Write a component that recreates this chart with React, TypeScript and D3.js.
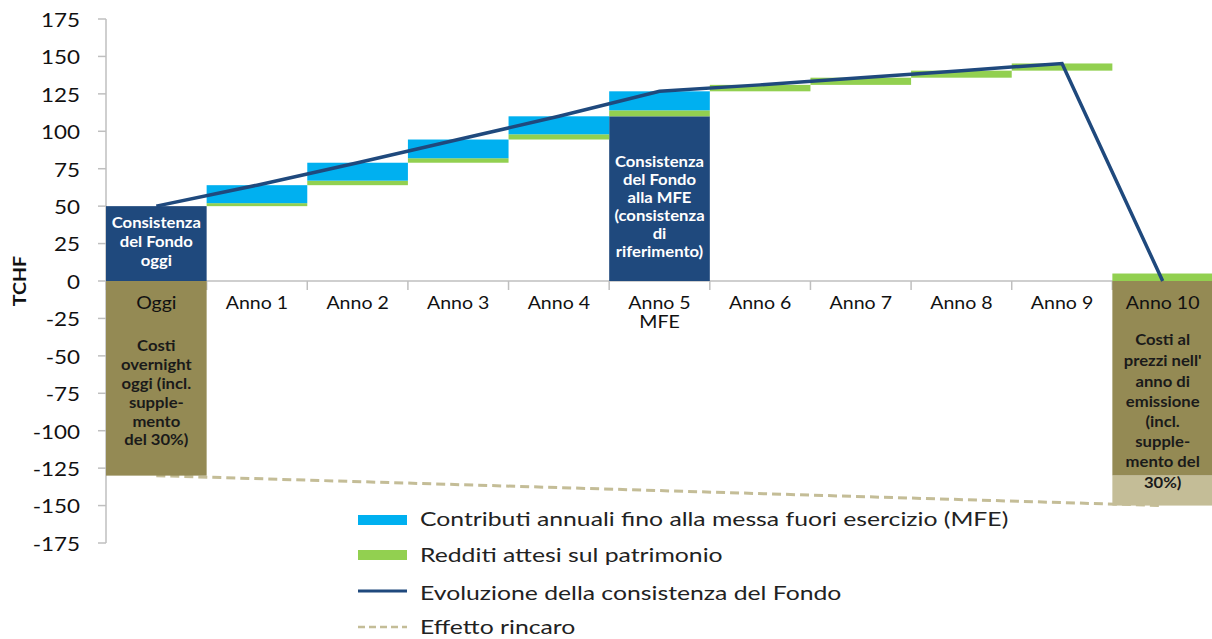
import React from "react";
import * as d3 from "d3";

const categories = ["Oggi", "Anno 1", "Anno 2", "Anno 3", "Anno 4", "Anno 5", "Anno 6", "Anno 7", "Anno 8", "Anno 9", "Anno 10"];
const categorySubLabels = ["", "", "", "", "", "MFE", "", "", "", "", ""];
const baseValues = [0, 50, 64, 79, 94.5, 0, 126.7, 131, 135.8, 140.5, 0];
const fundBarValues = [50, 0, 0, 0, 0, 110, 0, 0, 0, 0, 0];
const incomeValues = [0, 2, 3, 3, 3.5, 4, 4.3, 4.8, 4.7, 4.8, 5];
const contribValues = [0, 12, 12, 12.5, 12, 12.7, 0, 0, 0, 0, 0];
const costValues = [-130, 0, 0, 0, 0, 0, 0, 0, 0, 0, -130];
const inflationValues = [0, 0, 0, 0, 0, 0, 0, 0, 0, 0, -20];
const fundLineValues = [50, 64, 79, 94.5, 110, 126.7, 131, 135.8, 140.5, 145.3, 0];
const rincaroCategories = ["Oggi", "Anno 10"];
const rincaroValues = [-130, -150];
const yTicks = [175, 150, 125, 100, 75, 50, 25, 0, -25, -50, -75, -100, -125, -150, -175];

const legendItems = [
  "Contributi annuali fino alla messa fuori esercizio (MFE)",
  "Redditi attesi sul patrimonio",
  "Evoluzione della consistenza del Fondo",
  "Effetto rincaro",
];

const C = {
  dark: "#1F497D",
  blue: "#00B0F0",
  green: "#92D050",
  olive: "#948A54",
  tan: "#C4BD97",
  axis: "#BFBFBF",
};

const FONT = "Lato, 'Open Sans', sans-serif";

function SText(props: {
  x: number; y: number; sx: number; size: number; anchor?: string; weight?: string; fill?: string; children: any;
}) {
  const { x, y, sx, size, anchor = "start", weight = "normal", fill = "#111", children } = props;
  return (
    <text transform={`translate(${x},${y}) scale(${sx},1)`} textAnchor={anchor as any} dominantBaseline="central"
      fontSize={size} fontWeight={weight} fontFamily={FONT} fill={fill}>{children}</text>
  );
}

export default function App() {
  const W = 1212, H = 639;
  const x = d3.scaleBand<string>().domain(categories).range([106, 1213]).padding(0);
  const y = d3.scaleLinear().domain([-175, 175]).range([543, 19]);
  const bw = x.bandwidth();
  const cx = (c: string) => (x(c) as number) + bw / 2;

  const rows = categories.map((c, i) => ({
    cat: c,
    base: baseValues[i],
    fund: fundBarValues[i],
    income: incomeValues[i],
    contrib: contribValues[i],
    costs: costValues[i],
    inflation: inflationValues[i],
  }));
  const keys = ["base", "fund", "income", "contrib", "costs", "inflation"];
  const colors: Record<string, string> = {
    base: "none",
    fund: C.dark,
    income: C.green,
    contrib: C.blue,
    costs: C.olive,
    inflation: C.tan,
  };
  const series = d3.stack<any>().keys(keys).offset(d3.stackOffsetDiverging)(rows);

  const line = d3
    .line<number>()
    .x((_, i) => cx(categories[i]))
    .y((v) => y(v));
  const rincaroLine = d3
    .line<number>()
    .x((_, i) => cx(rincaroCategories[i]))
    .y((v) => y(v));

  const oggiX = cx("Oggi");
  const a5X = cx("Anno 5");
  const a10X = cx("Anno 10");

  const whiteText = (lines: string[], xc: number, y0: number, dy: number) =>
    lines.map((t, i) => (
      <SText key={t + i} x={xc} y={y0 + i * dy} sx={1.04} size={16} anchor="middle" weight="bold" fill="#FFFFFF">{t}</SText>
    ));
  const darkText = (lines: string[], xc: number, ys: number[]) =>
    lines.map((t, i) => (
      <SText key={t + i} x={xc} y={ys[i]} sx={1.04} size={16} anchor="middle" weight="bold" fill="#1A1A1A">{t}</SText>
    ));

  const legendY = [519, 555, 593, 627];

  return (
    <svg width={W} height={H} style={{ position: "absolute", left: 0, top: 0, background: "#fff" }}>
      {/* axes */}
      <line x1={106} x2={106} y1={y(175)} y2={y(-175)} stroke={C.axis} strokeWidth={1.5} />
      {yTicks.map((t) => (
        <g key={t}>
          <line x1={98} x2={106} y1={y(t)} y2={y(t)} stroke={C.axis} strokeWidth={1.5} />
          <SText x={80} y={y(t)} sx={1.15} size={19.5} anchor="end">{t}</SText>
        </g>
      ))}
      <line x1={106} x2={1212} y1={y(0)} y2={y(0)} stroke={C.axis} strokeWidth={1.5} />
      {categories.map((c) => (
        <line key={c} x1={(x(c) as number)} x2={(x(c) as number)} y1={y(0)} y2={y(0) + 9}
          stroke={C.axis} strokeWidth={1.5} />
      ))}
      <text transform={`translate(20,${y(0)}) rotate(-90) scale(1.15,1)`} textAnchor="middle" dominantBaseline="central"
        fontSize={17} fontWeight="bold" fontFamily={FONT} fill="#111">TCHF</text>

      {/* rincaro dashed line */}
      <path d={rincaroLine(rincaroValues) || ""} fill="none" stroke={C.tan} strokeWidth={3}
        strokeDasharray="9 5" />

      {/* bars */}
      {series.map((s) =>
        s.key === "base"
          ? null
          : s.map((d: any, i: number) => {
              const h = Math.abs(y(d[0]) - y(d[1]));
              if (h < 0.01) return null;
              return (
                <rect key={s.key + i} x={x(categories[i]) as number} width={bw}
                  y={Math.min(y(d[0]), y(d[1]))} height={h} fill={colors[s.key]} />
              );
            })
      )}

      {/* category labels */}
      {categories.map((c, i) => (
        <g key={c}>
          <SText x={cx(c)} y={303} sx={1.15} size={17} anchor="middle">{c}</SText>
          {categorySubLabels[i] ? (
            <SText x={cx(c)} y={322} sx={1.15} size={17} anchor="middle">{categorySubLabels[i]}</SText>
          ) : null}
        </g>
      ))}

      {/* fund line */}
      <path d={line(fundLineValues) || ""} fill="none" stroke={C.dark} strokeWidth={3.5}
        strokeLinejoin="miter" />

      {/* bar texts */}
      {whiteText(["Consistenza", "del Fondo", "oggi"], oggiX, 222, 19)}
      {whiteText(["Consistenza", "del Fondo", "alla MFE", "(consistenza", "di", "riferimento)"], a5X, 161, 18)}
      {darkText(["Costi", "overnight", "oggi (incl.", "supple-", "mento", "del 30%)"], oggiX,
        [345, 364, 383, 402, 421, 439])}
      {darkText(["Costi al", "prezzi nell'", "anno di", "emissione", "(incl.", "supple-", "mento del", "30%)"], a10X,
        [339, 360, 381, 401, 421, 441, 461, 482])}

      {/* legend */}
      <rect x={358} y={515} width={49} height={10} fill={C.blue} />
      <rect x={358} y={550} width={49} height={10} fill={C.green} />
      <line x1={358} x2={407} y1={591} y2={591} stroke={C.dark} strokeWidth={3} />
      <line x1={358} x2={407} y1={627} y2={627} stroke={C.tan} strokeWidth={2.5} strokeDasharray="7 4" />
      {legendItems.map((t, i) => (
        <SText key={t} x={420} y={legendY[i]} sx={1.27} size={19.5} fill="#222">{t}</SText>
      ))}
    </svg>
  );
}
